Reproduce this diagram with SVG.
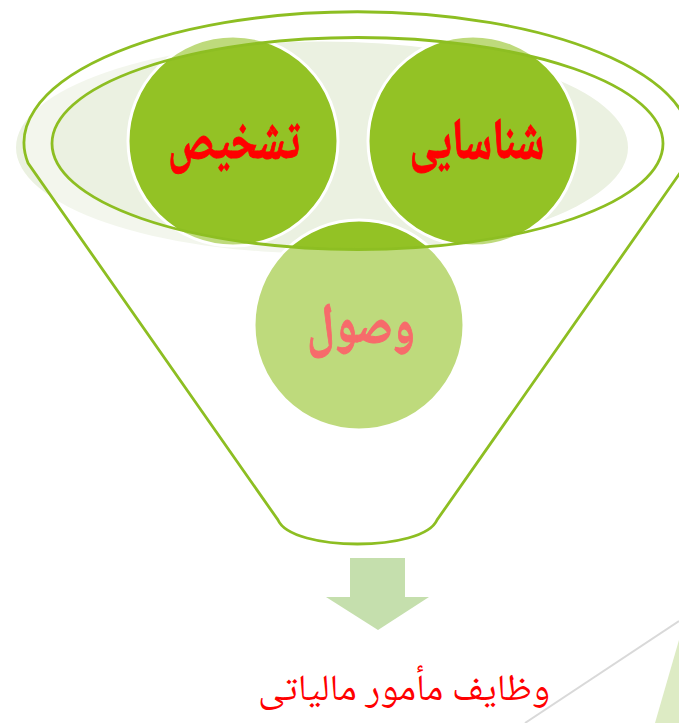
<svg xmlns="http://www.w3.org/2000/svg" width="679" height="723" viewBox="0 0 679 723">
<style>
.line{fill:none;stroke:#8DBE22;stroke-width:2.8}
.dark{fill:#93C225;stroke:#FFFFFF;stroke-width:3}
.t{font-family:"Noto Naskh Arabic","Noto Sans Arabic","DejaVu Sans",sans-serif;font-weight:bold;text-anchor:middle}
</style>
<g id="shadow"><ellipse cx="322" cy="147.5" rx="306" ry="106" fill="#EBF1E1"/></g>
<g id="node-tashkhis"><circle cx="233" cy="141" r="105" class="dark"/></g>
<g id="node-shenasayi"><circle cx="473" cy="141" r="105" class="dark"/></g>
<g id="node-vosul"><circle cx="359" cy="325" r="105" class="dark"/></g>
<g id="funnel">
<path fill="#FFFFFF" fill-opacity="0.4" fill-rule="evenodd" d="M28,163 A333.5,131 0 1 1 687,163 L437,520 C423,552 292,552 278,520 Z M52,143.5 A305.5,106 0 1 0 663,143.5 A305.5,106 0 1 0 52,143.5 Z"/>
<path class="line" d="M28,163 A333.5,131 0 1 1 687,163 L437,520 C423,552 292,552 278,520 Z"/>
<ellipse class="line" cx="357.5" cy="143.5" rx="305.5" ry="106"/>
</g>
<g id="labels">
<text class="t" x="234" y="159" font-size="58" fill="#FF0000" stroke="#FF0000" stroke-width="1" textLength="132" lengthAdjust="spacingAndGlyphs">تشخیص</text>
<text class="t" x="477" y="159" font-size="58" fill="#FF0000" stroke="#FF0000" stroke-width="1" textLength="135" lengthAdjust="spacingAndGlyphs">شناسایی</text>
<text class="t" x="361" y="343" font-size="58" fill="#F76B6B" stroke="#F76B6B" stroke-width="1" textLength="108" lengthAdjust="spacingAndGlyphs">وصول</text>
</g>
<g id="connectors">
<path d="M350,558 H405 V597 H429 L378,630 L326,597 H350 Z" fill="#C5DFAD"/>
</g>
<g id="result"><text x="404" y="700" font-family="Noto Naskh Arabic,Noto Sans Arabic,DejaVu Sans,sans-serif" font-size="37" fill="#FF0000" text-anchor="middle" textLength="292" lengthAdjust="spacingAndGlyphs">وظایف مأمور مالیاتی</text></g>
<g id="decor">
<line x1="525" y1="723" x2="679" y2="621" stroke="#D9D9D9" stroke-width="2"/>
<path d="M655,723 L679,640 L679,723 Z" fill="#DDEBC4"/>
</g>
</svg>
